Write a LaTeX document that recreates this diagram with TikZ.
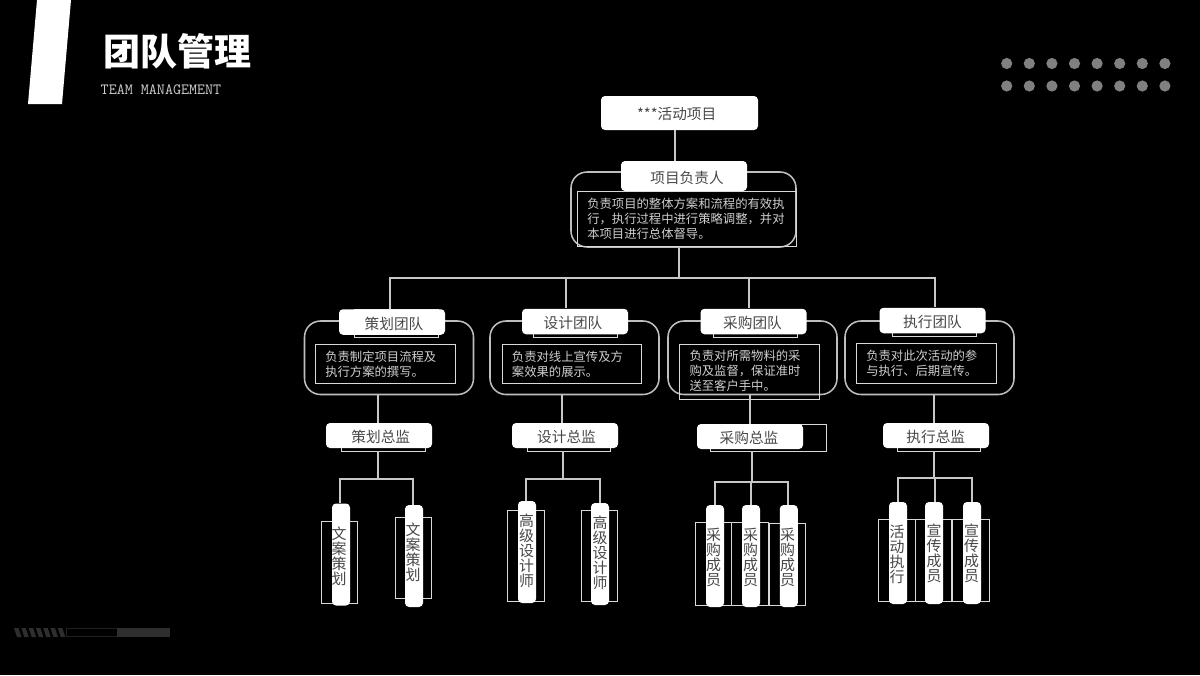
\documentclass[tikz,border=0pt]{standalone}
\usepackage{fontspec}
\setmainfont{Noto Sans CJK SC}
\definecolor{frameGray}{HTML}{BEBEBE}
\definecolor{lineGray}{HTML}{C8C8C8}
\definecolor{boxText}{HTML}{484848}
\definecolor{descText}{HTML}{CFCFCF}
\definecolor{dotGray}{HTML}{808080}
\definecolor{barGray}{HTML}{2E2E2E}
\tikzset{
   size/.style 2 args={minimum width=#1*0.75pt, minimum height=#2*0.75pt},
   link/.style={draw=lineGray, line width=0.8pt},
   outerFrame/.style={draw=frameGray, line width=1.15pt, rounded corners=12pt, inner sep=0pt},
   thinFrame/.style={draw=white!85!black, line width=0.7pt, inner sep=0pt},
   whiteBox/.style={fill=white, rounded corners=3pt, inner sep=0pt},
   boxLabel/.style={text=boxText, inner sep=0pt, font=\fontsize{11}{11}\selectfont},
   leafLabel/.style={text=boxText, inner sep=0pt, align=center, font=\fontsize{11.2}{11.25}\selectfont},
   descLabel/.style={text=descText, inner sep=0pt, anchor=west, align=left, font=\fontsize{9.25}{11.25}\selectfont}
}
\begin{document}
\begin{tikzpicture}[x=0.75pt,y=-0.75pt]
   \fill[black] (0,0) rectangle (1200,675);
   \useasboundingbox (0,0) rectangle (1200,675);

   \fill[white] (37,0) -- (71,0) -- (62,104) -- (28,104) -- cycle;
   \node[text=white, inner sep=0pt, font=\fontsize{27.75}{28}\selectfont\bfseries] (title) at (177,51) {团队管理};
   \node[text=descText, inner sep=0pt, font=\fontsize{11.7}{12}\ttfamily] (subtitle) at (161,89.5) {TEAM MANAGEMENT};

   \foreach \i in {0,...,7} {
      \fill[dotGray] (1006.7+22.6*\i,63.5) circle[radius=5.6];
      \fill[dotGray] (1006.7+22.6*\i,86) circle[radius=5.6];
   }

   \foreach \i in {0,...,6}
      \fill[barGray] (14+7.3*\i,628) -- (18.5+7.3*\i,628) -- (21.5+7.3*\i,637) -- (17+7.3*\i,637) -- cycle;
   \draw[barGray!70!black] (66,628.5) rectangle (117,636.5);
   \fill[barGray] (117,628) rectangle (170,637);

   \node[whiteBox, size={157}{34}] (top) at (679.5,113) {};
   \node[boxLabel] (topText) at (676.7,113.5) {***活动项目};

   \node[outerFrame, size={225}{75}] (leadFrame) at (683.5,209.5) {};
   \node[thinFrame, size={219.5}{55}] (leadDesc) at (686.75,218.75) {};
   \node[whiteBox, size={126}{30}] (lead) at (684,176) {};
   \node[boxLabel] (leadText) at (687,177.5) {项目负责人};
   \node[descLabel] (leadDescText) at (587,218.5) {负责项目的整体方案和流程的有效执\\行，执行过程中进行策略调整，并对\\本项目进行总体督导。};
   \draw[link] (top.south -| 675,0) -- (lead.north -| 675,0);

   % teams
   \foreach \id/\txt/\fx/\rx/\bx/\by/\tx in {plan/策划团队/389/396/392/322/394,
      design/设计团队/574.5/575.5/575/321.5/573,
      buy/采购团队/752.5/755.5/753.5/321.5/752.5,
      exec/执行团队/929.5/934.5/932.5/320.5/932.5} {
      \node[outerFrame, size={169}{73.5}] (\id Frame) at (\fx,357.75) {};
      \node[thinFrame, size={84}{28}] (\id Back) at (\rx,\by+1.5) {};
      \node[whiteBox, size={106}{25.5}] (\id Team) at (\bx,\by) {};
      \node[boxLabel] (\id TeamText) at (\tx,\by+1.5) {\txt};
   }

   \node[thinFrame, size={140}{39}] (planDesc) at (385,363.5) {};
   \node[descLabel] (planDescText) at (325,364) {负责制定项目流程及\\执行方案的撰写。};
   \node[thinFrame, size={139}{39}] (designDesc) at (571.5,363.5) {};
   \node[descLabel] (designDescText) at (511.7,364) {负责对线上宣传及方\\案效果的展示。};
   \node[thinFrame, size={140}{55}] (buyDesc) at (749,371.5) {};
   \node[descLabel] (buyDescText) at (689.3,371) {负责对所需物料的采\\购及监督，保证准时\\送至客户手中。};
   \node[thinFrame, size={140}{40}] (execDesc) at (926,363) {};
   \node[descLabel] (execDescText) at (866,363.5) {负责对此次活动的参\\与执行、后期宣传。};

   % chiefs
   \foreach \id/\txt/\rx/\rw/\bx/\by/\tx in {plan/策划总监/383/84/379/435.5/380.8,
      design/设计总监/568.5/83/565/435.5/566.5,
      buy/采购总监/768/116/750/436.5/749,
      exec/执行总监/938.5/83/936/435.5/935.8} {
      \node[thinFrame, size={\rw}{27}] (\id ChiefBack) at (\rx,437.5) {};
      \node[whiteBox, size={106}{25}] (\id Chief) at (\bx,\by) {};
      \node[boxLabel] (\id ChiefText) at (\tx,\by+1.5) {\txt};
   }

   % leaves
   \foreach \id/\txt/\fx/\fy/\fh/\bx/\by/\tx/\ty in {planA/文\\案\\策\\划/339.25/562/82/341/554.5/339/556,
      planB/文\\案\\策\\划/413.25/557.5/81/414/556/413/552,
      designA/高\\级\\设\\计\\师/525.75/555.5/91/527/552/526.7/551,
      designB/高\\级\\设\\计\\师/599.25/556/91.5/600/554/600/553,
      buyA/采\\购\\成\\员/713.25/563.5/83/715/556/713.5/557,
      buyB/采\\购\\成\\员/749.75/563.5/83/751/556/750.5/557,
      buyC/采\\购\\成\\员/787.5/564/82/788.75/556/787.5/557,
      execA/活\\动\\执\\行/897/560/82/898/553/897/554,
      execB/宣\\传\\成\\员/933.5/560/82/934/553/934/553,
      execC/宣\\传\\成\\员/970.75/560/82/972/553/971.5/553} {
      \node[thinFrame, size={36.5}{\fh}] (\id Frame) at (\fx,\fy) {};
      \node[whiteBox, size={18}{102}] (\id) at (\bx,\by) {};
      \node[leafLabel] (\id Text) at (\tx,\ty) {\txt};
   }

   \coordinate (leadStem) at (679,278);
   \coordinate (busLeft) at (390,278);
   \coordinate (busDesign) at (566,278);
   \coordinate (busBuy) at (749,278);
   \coordinate (busRight) at (935,278);
   \draw[link] (leadFrame.south -| leadStem) -- (leadStem);
   \draw[link] (planTeam.north -| busLeft) -- (busLeft) -- (busRight) -- (execTeam.north -| busRight);
   \draw[link] (busDesign) -- (designTeam.north -| busDesign);
   \draw[link] (busBuy) -- (buyTeam.north -| busBuy);

   \coordinate (planStem) at (378,479);
   \coordinate (planBusL) at (340,479);
   \coordinate (planBusR) at (413,479);
   \draw[link] (planFrame.south -| planStem) -- (planChief.north -| planStem);
   \draw[link] (planChiefBack.south -| planStem) -- (planStem);
   \draw[link] (planA.north -| planBusL) -- (planBusL) -- (planBusR) -- (planB.north -| planBusR);

   \coordinate (designStem) at (563,479);
   \coordinate (designBusL) at (526,479);
   \coordinate (designBusR) at (600,479);
   \draw[link] (designFrame.south -| 562,0) -- (designChief.north -| 562,0);
   \draw[link] (designChiefBack.south -| designStem) -- (designStem);
   \draw[link] (designA.north -| designBusL) -- (designBusL) -- (designBusR) -- (designB.north -| designBusR);

   \coordinate (buyStem) at (752,482);
   \coordinate (buyBusL) at (715,482);
   \coordinate (buyBusM) at (751,482);
   \coordinate (buyBusR) at (788,482);
   \draw[link] (buyFrame.south -| 750,0) -- (buyChief.north -| 750,0);
   \draw[link] (buyChiefBack.south -| buyStem) -- (buyStem);
   \draw[link] (buyA.north -| buyBusL) -- (buyBusL) -- (buyBusR) -- (buyC.north -| buyBusR);
   \draw[link] (buyBusM) -- (buyB.north -| buyBusM);

   \coordinate (execStem) at (934,478);
   \coordinate (execBusL) at (898,478);
   \coordinate (execBusM) at (935,478);
   \coordinate (execBusR) at (972,478);
   \draw[link] (execFrame.south -| execStem) -- (execChief.north -| execStem);
   \draw[link] (execChiefBack.south -| execStem) -- (execStem);
   \draw[link] (execA.north -| execBusL) -- (execBusL) -- (execBusR) -- (execC.north -| execBusR);
   \draw[link] (execBusM) -- (execB.north -| execBusM);
\end{tikzpicture}
\end{document}
